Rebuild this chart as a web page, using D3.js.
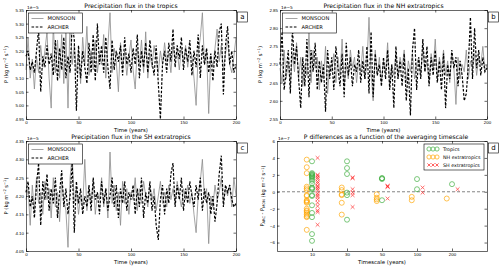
<!DOCTYPE html>
<html>
<head>
<meta charset="utf-8">
<title>Precipitation flux | D3</title>
<style>
  body { margin: 0; background: #fff; font-family: "DejaVu Sans", sans-serif; }
  text { fill: #000; }
  .axis path, .axis line { stroke: #000; stroke-width: 0.6; }
  .axis text { font-size: 4.4px; fill: #000; }
</style>
<script src="https://d3js.org/d3.v7.min.js" charset="utf-8"></script>
</head>
<body>
<script>
// years of the time series (one value every 2 years)
var years = d3.range(0, 201, 2);

// panel a: tropics (x 1e-5 kg m-2 s-1)
var tropMonsoon = [5.13,5.25,5.10,5.17,5.06,5.18,5.12,5.22,5.14,5.20,
  5.27,5.10,4.99,5.30,5.12,5.24,5.10,5.26,5.08,5.27,
  4.99,5.33,5.15,5.22,5.12,5.20,5.08,5.25,5.15,5.29,
  5.11,5.20,5.13,5.24,5.12,5.19,5.15,5.26,5.10,5.22,
  5.34,5.12,5.21,5.16,5.05,5.23,5.14,5.20,5.11,5.18,
  5.24,5.13,5.06,5.21,5.15,5.24,5.12,5.27,5.10,5.19,
  5.14,5.22,5.17,5.12,5.20,5.15,5.23,5.16,5.19,5.12,
  5.22,5.17,5.20,5.13,5.21,5.16,5.22,5.14,5.20,5.18,
  5.10,5.00,5.19,5.25,5.34,5.15,5.20,4.97,5.18,5.14,
  5.21,5.28,5.16,5.22,5.13,5.19,5.24,5.15,5.12,5.18,5.25];
var tropArcher = [5.18,5.20,5.13,5.16,5.12,5.20,5.28,5.05,5.18,5.14,
  5.22,5.15,5.19,5.11,5.24,5.09,5.21,5.13,5.25,5.10,
  5.18,5.12,5.30,5.24,4.98,5.22,5.10,5.20,5.14,5.08,
  5.23,5.12,5.26,5.09,5.30,5.15,5.22,5.12,5.25,5.14,
  5.06,5.24,5.13,5.20,5.16,5.22,5.11,5.25,5.15,5.19,
  5.12,5.21,5.15,5.26,5.10,5.20,5.14,5.23,5.12,5.24,
  5.16,5.11,5.22,5.08,4.95,5.15,5.20,5.12,5.23,5.16,
  5.28,5.14,5.22,5.17,5.25,5.13,5.21,5.16,5.24,5.11,
  5.20,5.14,5.26,5.10,5.22,5.15,5.21,5.12,5.19,5.09,
  5.20,5.14,5.27,5.30,5.04,5.22,5.29,5.15,5.20,5.12,5.15];

// panel b: NH extratropics
var nhMonsoon = [2.69,2.65,2.74,2.66,2.71,2.64,2.73,2.68,2.76,2.66,
  2.72,2.64,2.70,2.67,2.79,2.65,2.74,2.69,2.72,2.63,
  2.71,2.66,2.75,2.62,2.70,2.68,2.73,2.65,2.72,2.67,
  2.77,2.64,2.70,2.66,2.74,2.69,2.72,2.65,2.71,2.68,
  2.75,2.66,2.70,2.83,2.68,2.60,2.74,2.67,2.72,2.65,
  2.71,2.68,2.76,2.64,2.70,2.67,2.73,2.66,2.72,2.69,
  2.74,2.65,2.71,2.68,2.73,2.66,2.70,2.72,2.67,2.75,
  2.68,2.71,2.65,2.73,2.69,2.77,2.66,2.72,2.68,2.74,
  2.67,2.71,2.65,2.73,2.69,2.59,2.72,2.66,2.70,2.68,
  2.74,2.66,2.71,2.69,2.73,2.67,2.72,2.70,2.75,2.68,2.70];
var nhArcher = [2.70,2.79,2.63,2.68,2.74,2.62,2.80,2.70,2.75,2.66,
  2.58,2.72,2.64,2.77,2.61,2.74,2.68,2.76,2.63,2.71,
  2.65,2.70,2.57,2.74,2.66,2.72,2.63,2.75,2.69,2.64,
  2.73,2.61,2.76,2.67,2.72,2.64,2.70,2.68,2.74,2.65,
  2.71,2.66,2.75,2.62,2.79,2.61,2.73,2.67,2.70,2.64,
  2.72,2.66,2.74,2.63,2.70,2.58,2.75,2.66,2.71,2.64,
  2.73,2.60,2.69,2.56,2.74,2.80,2.63,2.72,2.66,2.77,
  2.68,2.75,2.64,2.72,2.67,2.74,2.65,2.71,2.63,2.73,
  2.58,2.70,2.66,2.74,2.69,2.72,2.64,2.71,2.67,2.60,
  2.62,2.70,2.83,2.66,2.80,2.69,2.74,2.67,2.72,2.68,2.69];

// panel c: SH extratropics
var shMonsoon = [4.19,4.22,4.12,4.23,4.16,4.25,4.18,4.21,4.15,4.24,
  4.19,4.22,4.14,4.25,4.17,4.21,4.13,4.24,4.19,4.16,
  4.06,4.25,4.31,4.18,4.22,4.15,4.20,4.17,4.30,4.16,
  4.22,4.18,4.24,4.15,4.21,4.19,4.25,4.17,4.22,4.14,
  4.32,4.18,4.23,4.16,4.21,4.12,4.24,4.18,4.22,4.15,
  4.21,4.19,4.25,4.16,4.22,4.18,4.24,4.20,4.17,4.23,
  4.19,4.22,4.16,4.20,4.24,4.18,4.21,4.17,4.23,4.19,
  4.22,4.18,4.24,4.20,4.17,4.22,4.19,4.23,4.18,4.21,
  4.15,4.10,4.20,4.24,4.30,4.19,4.22,4.07,4.20,4.17,
  4.23,4.19,4.21,4.25,4.18,4.22,4.20,4.23,4.17,4.25,4.20];
var shArcher = [4.21,4.24,4.17,4.20,4.14,4.23,4.29,4.12,4.24,4.19,
  4.26,4.16,4.22,4.18,4.25,4.14,4.21,4.27,4.17,4.22,
  4.15,4.20,4.29,4.10,4.24,4.18,4.22,4.15,4.20,4.17,
  4.23,4.16,4.25,4.19,4.21,4.15,4.24,4.18,4.22,4.16,
  4.20,4.25,4.17,4.23,4.14,4.22,4.18,4.24,4.16,4.21,
  4.19,4.23,4.15,4.22,4.17,4.25,4.14,4.21,4.18,4.24,
  4.16,4.20,4.12,4.08,4.19,4.23,4.15,4.22,4.18,4.26,
  4.29,4.17,4.23,4.19,4.25,4.16,4.22,4.18,4.24,4.20,
  4.17,4.23,4.19,4.25,4.16,4.22,4.18,4.21,4.15,4.20,
  4.13,4.18,4.26,4.31,4.17,4.23,4.21,4.23,4.19,4.17,4.18];

// panel d: differences (x 1e-7) for each averaging timescale
var timescales = ["10", "30", "50", "100", "200"];
var tropDiff = [
  [3.6,2.2,2.1,2.0,1.9,1.8,1.7,1.5,1.3,1.0,0.5,0.4,0.3,-0.4,-0.5,-1.6,-2.5,-3.0,-5.0,-5.8],
  [3.6,2.8,2.1,-0.1,-0.4,-3.3],
  [1.6,1.6,1.5,-1.0],
  [1.5,0.3],
  [0.9]];
var nhDiff = [
  [3.8,2.9,2.2,0.6,0.4,0.2,-0.4,-0.5,-1.0,-1.1,-1.2,-1.3,-2.0,-2.2,-2.3,-2.5,-2.7,-2.9,-3.0,-4.5],
  [0.5,0.2,-0.3,-0.4,-1.3,-2.7],
  [-0.3,-0.7,-0.9,-1.1],
  [-0.6,-1.0],
  [-0.8]];
var shDiff = [
  [4.0,2.0,1.9,1.7,1.5,1.2,1.0,0.7,0.6,0.4,0.2,-0.2,-0.4,-0.6,-0.9,-1.3,-1.7,-2.2,-2.4,-3.9],
  [1.7,1.6,0.3,-0.1,-0.4,-1.8],
  [0.7,0.6,0.6,-0.8],
  [0.5,-0.1],
  [0.3]];

var width = 500, height = 268;
var svg = d3.select("body").append("svg")
  .attr("width", width)
  .attr("height", height);

// draws the frame with inward ticks on all four sides
function frame(g, x, y, xTicks, yTicks, xFmt, yFmt) {
  var r = x.range(), t = y.range();
  g.append("g").attr("class", "axis").attr("transform", "translate(0," + t[0] + ")")
    .call(d3.axisBottom(x).tickValues(xTicks).tickFormat(xFmt).tickSize(-2.5).tickSizeOuter(0).tickPadding(2));
  g.append("g").attr("class", "axis").attr("transform", "translate(0," + t[1] + ")")
    .call(d3.axisTop(x).tickValues(xTicks).tickFormat("").tickSize(-2.5).tickSizeOuter(0));
  g.append("g").attr("class", "axis").attr("transform", "translate(" + r[0] + ",0)")
    .call(d3.axisLeft(y).tickValues(yTicks).tickFormat(yFmt).tickSize(-2.5).tickSizeOuter(0).tickPadding(2));
  g.append("g").attr("class", "axis").attr("transform", "translate(" + r[1] + ",0)")
    .call(d3.axisRight(y).tickValues(yTicks).tickFormat("").tickSize(-2.5).tickSizeOuter(0));
  g.selectAll(".axis .domain").attr("stroke-width", 0.8);
}

function panelLetter(g, x, y, letter) {
  var px = x.range()[1] + 1.5, py = y.range()[1] + 2;
  g.append("rect").attr("x", px).attr("y", py).attr("width", 10).attr("height", 10)
    .attr("fill", "#fff").attr("stroke", "#000").attr("stroke-width", 0.6);
  g.append("text").attr("x", px + 5).attr("y", py + 7.3).attr("text-anchor", "middle")
    .attr("font-size", 7).text(letter);
}

function yLabel(g, xpos, y) {
  return g.append("text")
    .attr("transform", "translate(" + xpos + "," + (y.range()[0] + y.range()[1]) / 2 + ") rotate(-90)")
    .attr("text-anchor", "middle").attr("font-size", 5.2);
}

function unitsLabel(t) {
  t.append("tspan").text(" (kg m");
  t.append("tspan").attr("dy", -1.6).attr("font-size", 3.6).text("\u22122");
  t.append("tspan").attr("dy", 1.6).text(" s");
  t.append("tspan").attr("dy", -1.6).attr("font-size", 3.6).text("\u22121");
  t.append("tspan").attr("dy", 1.6).text(")");
}

function seriesPanel(left, right, top, bottom, yDomain, yTicks, title, letter, mon, arc) {
  var g = svg.append("g");
  var x = d3.scaleLinear().domain([0, 200]).range([left, right]);
  var y = d3.scaleLinear().domain(yDomain).range([bottom, top]);

  var line = d3.line()
    .x(function(d, i) { return x(years[i]); })
    .y(function(d) { return y(d); });

  g.append("path").datum(mon).attr("fill", "none").attr("stroke", "#8c8c8c")
    .attr("stroke-width", 0.8).attr("d", line);
  g.append("path").datum(arc).attr("fill", "none").attr("stroke", "#000")
    .attr("stroke-width", 1.2).attr("stroke-dasharray", "2.6,1.6").attr("d", line);

  frame(g, x, y, [0, 50, 100, 150, 200], yTicks, d3.format("d"), d3.format(".2f"));

  g.append("text").attr("x", left + 1).attr("y", top - 1.2).attr("font-size", 4.3).text("1e\u22125");
  g.append("text").attr("x", (left + right) / 2).attr("y", top - 2.2)
    .attr("text-anchor", "middle").attr("font-size", 6.1).text(title);
  g.append("text").attr("x", (left + right) / 2).attr("y", bottom + 12.5)
    .attr("text-anchor", "middle").attr("font-size", 5.4).text("Time (years)");
  var yl = yLabel(g, left - 18, y);
  yl.append("tspan").text("P");
  unitsLabel(yl);

  // legend
  var lg = g.append("g").attr("transform", "translate(" + (left + 2.5) + "," + (top + 3) + ")");
  lg.append("rect").attr("width", 54).attr("height", 20).attr("fill", "#fff")
    .attr("stroke", "#000").attr("stroke-width", 0.6);
  lg.append("line").attr("x1", 3).attr("x2", 15).attr("y1", 5.5).attr("y2", 5.5)
    .attr("stroke", "#8c8c8c").attr("stroke-width", 0.8);
  lg.append("line").attr("x1", 3).attr("x2", 15).attr("y1", 14).attr("y2", 14)
    .attr("stroke", "#000").attr("stroke-width", 1.2).attr("stroke-dasharray", "2.6,1.6");
  lg.append("text").attr("x", 19).attr("y", 7.4).attr("font-size", 5.2).text("MONSOON");
  lg.append("text").attr("x", 19).attr("y", 15.9).attr("font-size", 5.2).text("ARCHER");

  panelLetter(g, x, y, letter);
}

seriesPanel(26, 236, 10, 119, [4.95, 5.35], d3.range(4.95, 5.351, 0.05),
  "Precipitation flux in the tropics", "a", tropMonsoon, tropArcher);
seriesPanel(280, 487, 10, 119, [2.55, 2.85], d3.range(2.55, 2.851, 0.05),
  "Precipitation flux in the NH extratropics", "b", nhMonsoon, nhArcher);
seriesPanel(26, 236, 141, 251, [4.05, 4.35], d3.range(4.05, 4.351, 0.05),
  "Precipitation flux in the SH extratropics", "c", shMonsoon, shArcher);

// panel d
(function() {
  var left = 277, right = 487, top = 141, bottom = 251;
  var g = svg.append("g");
  var x = d3.scaleLinear().domain([0, 6]).range([left, right]);
  var y = d3.scaleLinear().domain([-7, 6]).range([bottom, top]);
  var green = "#3fae3f", orange = "#ffa500", red = "#ff2020";

  g.append("line").attr("x1", left).attr("x2", right).attr("y1", y(0)).attr("y2", y(0))
    .attr("stroke", "#777").attr("stroke-width", 0.9).attr("stroke-dasharray", "3,2");

  var groups = [
    { data: nhDiff, off: -0.15, color: orange, kind: "o" },
    { data: tropDiff, off: 0, color: green, kind: "o" },
    { data: shDiff, off: 0.16, color: red, kind: "x" }
  ];
  groups.forEach(function(gr) {
    gr.data.forEach(function(vals, i) {
      var sel = g.selectAll(null).data(vals).enter();
      if (gr.kind === "o") {
        sel.append("circle")
          .attr("cx", x(i + 1 + gr.off))
          .attr("cy", function(d) { return y(d); })
          .attr("r", 2.5).attr("fill", "none").attr("stroke", gr.color)
          .attr("stroke-width", 0.8).attr("opacity", 0.85);
      } else {
        sel.append("path")
          .attr("transform", function(d) { return "translate(" + x(i + 1 + gr.off) + "," + y(d) + ")"; })
          .attr("d", "M-1.9,-1.9L1.9,1.9M-1.9,1.9L1.9,-1.9")
          .attr("stroke", gr.color).attr("stroke-width", 0.8).attr("opacity", 0.8);
      }
    });
  });

  frame(g, x, y, [1, 2, 3, 4, 5], d3.range(-6, 7, 2),
    function(d) { return timescales[d - 1]; }, d3.format("d"));

  g.append("text").attr("x", left + 1).attr("y", top - 1.2).attr("font-size", 4.3).text("1e\u22127");
  g.append("text").attr("x", (left + right) / 2 + 4).attr("y", top - 2.2)
    .attr("text-anchor", "middle").attr("font-size", 6.1)
    .text("P differences as a function of the averaging timescale");
  g.append("text").attr("x", (left + right) / 2).attr("y", bottom + 12.5)
    .attr("text-anchor", "middle").attr("font-size", 5.4).text("Timescale (years)");

  var yl = yLabel(g, left - 13, y);
  yl.append("tspan").text("P");
  yl.append("tspan").attr("dy", 1.2).attr("font-size", 3.6).text("ARC");
  yl.append("tspan").attr("dy", -1.2).text(" - P");
  yl.append("tspan").attr("dy", 1.2).attr("font-size", 3.6).text("MON");
  yl.append("tspan").attr("dy", -1.2).text("");
  unitsLabel(yl);

  // legend
  var lg = g.append("g").attr("transform", "translate(" + (right - 63) + "," + (top + 3) + ")");
  lg.append("rect").attr("width", 60).attr("height", 26).attr("fill", "#fff")
    .attr("stroke", "#000").attr("stroke-width", 0.6);
  var items = [["Tropics", green, "o"], ["NH extratropics", orange, "o"], ["SH extratropics", red, "x"]];
  items.forEach(function(it, k) {
    var cy = 5 + k * 8;
    [5, 9, 13].forEach(function(cx) {
      if (it[2] === "o") {
        lg.append("circle").attr("cx", cx).attr("cy", cy).attr("r", 2.1).attr("fill", "none")
          .attr("stroke", it[1]).attr("stroke-width", 0.7);
      } else {
        lg.append("path").attr("transform", "translate(" + cx + "," + cy + ")")
          .attr("d", "M-1.6,-1.6L1.6,1.6M-1.6,1.6L1.6,-1.6")
          .attr("stroke", it[1]).attr("stroke-width", 0.7);
      }
    });
    lg.append("text").attr("x", 19).attr("y", cy + 1.8).attr("font-size", 4.8).text(it[0]);
  });

  panelLetter(g, x, y, "d");
})();
</script>
</body>
</html>
